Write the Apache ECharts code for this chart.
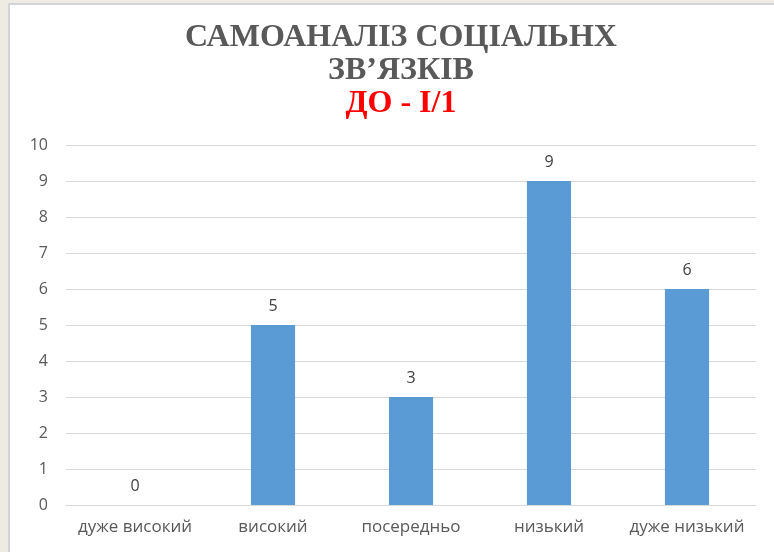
<!DOCTYPE html>
<html>
<head>
<meta charset="utf-8">
<script src="https://cdn.jsdelivr.net/npm/echarts@6/dist/echarts.min.js"></script>
<style>
  html, body { margin: 0; padding: 0; background: #eeebe2; }
  #main { width: 774px; height: 552px; }
</style>
</head>
<body>
<div id="main"></div>
<script>
var categories = ["дуже високий", "високий", "посередньо", "низький", "дуже низький"];
var values = [0, 5, 3, 9, 6];
var yTicks = [0, 10, 1]; // min, max, step

var myChart = echarts.init(document.getElementById("main"));

var option = {
  backgroundColor: "#eeebe2",
  graphic: [
    {
      type: "rect",
      shape: { x: 9, y: 4, width: 770, height: 555 },
      style: { fill: "#ffffff", stroke: "#d3d3da", lineWidth: 2 },
      z: -10
    }
  ],
  title: {
    text: "{a|САМОАНАЛІЗ СОЦІАЛЬНХ}\n{a|ЗВ’ЯЗКІВ}\n{b|ДО - І/1}",
    left: 396,
    top: 16,
    textAlign: "center",
    textStyle: {
      rich: {
        a: {
          fontFamily: "Liberation Serif",
          fontWeight: "bold",
          fontSize: 32,
          color: "#595959",
          lineHeight: 33,
          align: "center"
        },
        b: {
          fontFamily: "Liberation Serif",
          fontWeight: "bold",
          fontSize: 32,
          color: "#ff0000",
          lineHeight: 33,
          align: "center"
        }
      }
    }
  },
  grid: {
    left: 66,
    right: 18,
    top: 145,
    bottom: 47
  },
  xAxis: {
    type: "category",
    data: categories,
    axisLine: { lineStyle: { color: "#d9d9d9", width: 1 } },
    axisTick: { show: false },
    axisLabel: {
      interval: 0,
      hideOverlap: false,
      color: "#595959",
      fontFamily: "Open Sans",
      fontSize: 17,
      margin: 14
    }
  },
  yAxis: {
    type: "value",
    min: yTicks[0],
    max: yTicks[1],
    interval: yTicks[2],
    axisLine: { show: false },
    axisTick: { show: false },
    splitLine: { lineStyle: { color: "#d9d9d9", width: 1 } },
    axisLabel: {
      color: "#595959",
      fontFamily: "Open Sans",
      fontSize: 16,
      margin: 18
    }
  },
  series: [
    {
      type: "bar",
      data: values,
      barWidth: "32%",
      itemStyle: { color: "#5b9bd5" },
      label: {
        show: true,
        position: "top",
        distance: 11,
        color: "#404040",
        fontFamily: "Open Sans",
        fontSize: 16
      },
      animation: false
    }
  ]
};

myChart.setOption(option);
</script>
</body>
</html>
